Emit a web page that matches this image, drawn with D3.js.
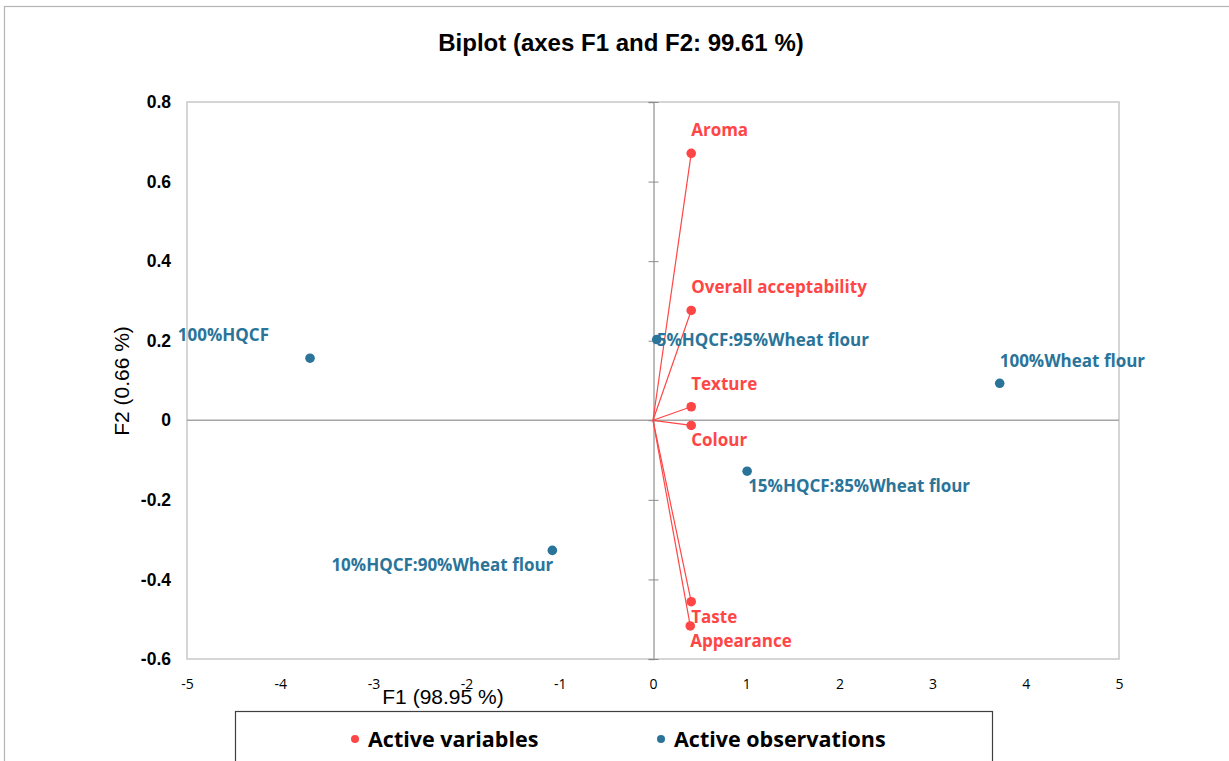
<!DOCTYPE html>
<html>
<head>
<meta charset="utf-8">
<script src="https://cdn.jsdelivr.net/npm/d3@7"></script>
<style>
  html, body { margin: 0; padding: 0; background: #fff; }
  svg { display: block; }
</style>
</head>
<body>
<svg id="chart" width="1229" height="761"></svg>
<script>
// PCA biplot: variable loadings (vectors) and observation scores on F1/F2
const variableNames = ["Aroma", "Overall acceptability", "Texture", "Colour", "Taste", "Appearance"];
const variableF1 = [0.41, 0.41, 0.41, 0.41, 0.41, 0.40];
const variableF2 = [0.671, 0.276, 0.034, -0.013, -0.456, -0.517];

const observationNames = ["100%HQCF", "5%HQCF:95%Wheat flour", "100%Wheat flour", "15%HQCF:85%Wheat flour", "10%HQCF:90%Wheat flour"];
const observationF1 = [-3.68, 0.04, 3.72, 1.01, -1.08];
const observationF2 = [0.156, 0.203, 0.093, -0.128, -0.327];

const xTicks = [-5, -4, -3, -2, -1, 0, 1, 2, 3, 4, 5];
const yTicks = [-0.6, -0.4, -0.2, 0, 0.2, 0.4, 0.6, 0.8];

const titleText = "Biplot (axes F1 and F2: 99.61 %)";
const xTitle = "F1 (98.95 %)";
const yTitle = "F2 (0.66 %)";
const legendLabels = ["Active variables", "Active observations"];

// label placement relative to each marker: [dx, dy, anchor]
const variableLabelPos = {
  "Aroma": [0, -23, "start"],
  "Overall acceptability": [0, -23, "start"],
  "Texture": [0, -23, "start"],
  "Colour": [0, 15, "start"],
  "Taste": [0, 15, "start"],
  "Appearance": [0, 15, "start"]
};
const observationLabelPos = {
  "100%HQCF": [-41, -23, "end"],
  "5%HQCF:95%Wheat flour": [0, 1, "start"],
  "100%Wheat flour": [0, -22, "start"],
  "15%HQCF:85%Wheat flour": [1, 15, "start"],
  "10%HQCF:90%Wheat flour": [1, 15, "end"]
};

const RED = "#FF4646";
const BLUE = "#2A7499";
const GRID = "#A6A6A6";
const LABEL_FONT = "Open Sans, Liberation Sans, sans-serif";
const ARIAL = "Liberation Sans, Arial, sans-serif";

const svg = d3.select("#chart");

// outer frame (top and left edges visible)
svg.append("rect")
  .attr("x", 4.5).attr("y", 6.5).attr("width", 1260).attr("height", 800)
  .attr("fill", "none").attr("stroke", "#B4B4B4").attr("stroke-width", 1.2);

const plot = { left: 187, right: 1119, top: 102, bottom: 659 };

const x = d3.scaleLinear().domain([-5, 5]).range([plot.left, plot.right]);
const y = d3.scaleLinear().domain([-0.6, 0.8]).range([plot.bottom, plot.top]);

// title
svg.append("text")
  .attr("x", 621).attr("y", 51)
  .attr("text-anchor", "middle")
  .attr("font-family", ARIAL)
  .attr("font-weight", "bold").attr("font-size", 24)
  .attr("fill", "#000")
  .text(titleText);

// plot area border
svg.append("rect")
  .attr("x", plot.left).attr("y", plot.top)
  .attr("width", plot.right - plot.left).attr("height", plot.bottom - plot.top)
  .attr("fill", "none").attr("stroke", "#C8C8C8").attr("stroke-width", 1.5);

// zero axes
svg.append("line")
  .attr("x1", plot.left).attr("x2", plot.right)
  .attr("y1", y(0)).attr("y2", y(0))
  .attr("stroke", GRID).attr("stroke-width", 1.5);

const yAxis = d3.axisLeft(y).tickValues(yTicks).tickSize(5).tickFormat("");
svg.append("g")
  .attr("transform", `translate(${x(0) + 0.5},0)`)
  .call(yAxis)
  .call(g => g.select(".domain").attr("stroke", GRID).attr("stroke-width", 1.5))
  .call(g => g.selectAll(".tick line").attr("stroke", "#8C8C8C").attr("x2", -5).attr("x1", 5));

// y tick labels on the left
svg.append("g").selectAll("text")
  .data(yTicks)
  .join("text")
  .attr("x", 171).attr("y", d => y(d))
  .attr("dy", "0.35em")
  .attr("text-anchor", "end")
  .attr("font-family", ARIAL)
  .attr("font-weight", "bold").attr("font-size", 17.5)
  .attr("fill", "#000")
  .text(d => String(Math.round(d * 10) / 10));

// x tick labels below the plot (hyphen minus)
const xAxis = d3.axisBottom(x).tickValues(xTicks).tickSize(0).tickPadding(0)
  .tickFormat(d => String(d));
svg.append("g")
  .attr("transform", `translate(0,${plot.bottom + 20})`)
  .call(xAxis)
  .call(g => g.select(".domain").remove())
  .call(g => g.selectAll("text")
    .attr("font-family", LABEL_FONT)
    .attr("font-size", 14).attr("fill", "#000"));

// axis titles
svg.append("text")
  .attr("x", 443).attr("y", 704)
  .attr("text-anchor", "middle")
  .attr("font-family", ARIAL)
  .attr("font-size", 21).attr("fill", "#000")
  .text(xTitle);

svg.append("text")
  .attr("transform", `translate(129,381) rotate(-90)`)
  .attr("text-anchor", "middle")
  .attr("font-family", ARIAL)
  .attr("font-size", 21).attr("fill", "#000")
  .text(yTitle);

// variable vectors
const variables = variableNames.map((n, i) => ({ name: n, f1: variableF1[i], f2: variableF2[i] }));
const observations = observationNames.map((n, i) => ({ name: n, f1: observationF1[i], f2: observationF2[i] }));

svg.append("g").selectAll("line")
  .data(variables)
  .join("line")
  .attr("x1", x(0)).attr("y1", y(0))
  .attr("x2", d => x(d.f1)).attr("y2", d => y(d.f2))
  .attr("stroke", RED).attr("stroke-width", 1.2);

svg.append("g").selectAll("circle")
  .data(variables)
  .join("circle")
  .attr("cx", d => x(d.f1)).attr("cy", d => y(d.f2))
  .attr("r", 4.8).attr("fill", RED);

svg.append("g").selectAll("text")
  .data(variables)
  .join("text")
  .attr("x", d => x(d.f1) + variableLabelPos[d.name][0])
  .attr("y", d => y(d.f2) + variableLabelPos[d.name][1])
  .attr("dy", "0.35em")
  .attr("text-anchor", d => variableLabelPos[d.name][2])
  .attr("font-family", LABEL_FONT)
  .attr("font-weight", "bold").attr("font-size", 17)
  .attr("fill", RED)
  .text(d => d.name);

// observations
svg.append("g").selectAll("circle")
  .data(observations)
  .join("circle")
  .attr("cx", d => x(d.f1)).attr("cy", d => y(d.f2))
  .attr("r", 4.8).attr("fill", BLUE);

svg.append("g").selectAll("text")
  .data(observations)
  .join("text")
  .attr("x", d => x(d.f1) + observationLabelPos[d.name][0])
  .attr("y", d => y(d.f2) + observationLabelPos[d.name][1])
  .attr("dy", "0.35em")
  .attr("text-anchor", d => observationLabelPos[d.name][2])
  .attr("font-family", LABEL_FONT)
  .attr("font-weight", "bold").attr("font-size", 17)
  .attr("fill", BLUE)
  .text(d => d.name);

// legend
const legend = svg.append("g");
legend.append("rect")
  .attr("x", 235.5).attr("y", 711.5).attr("width", 757).attr("height", 70)
  .attr("fill", "#fff").attr("stroke", "#404040").attr("stroke-width", 1.2);

const legendItems = [
  { label: legendLabels[0], color: RED, cx: 355 },
  { label: legendLabels[1], color: BLUE, cx: 661 }
];
legend.selectAll("circle")
  .data(legendItems)
  .join("circle")
  .attr("cx", d => d.cx).attr("cy", 739)
  .attr("r", 4).attr("fill", d => d.color);
legend.selectAll("text")
  .data(legendItems)
  .join("text")
  .attr("x", d => d.cx + 13).attr("y", 739)
  .attr("dy", "0.35em")
  .attr("font-family", LABEL_FONT)
  .attr("font-weight", "bold").attr("font-size", 21.5)
  .attr("fill", "#000")
  .text(d => d.label);
</script>
</body>
</html>
